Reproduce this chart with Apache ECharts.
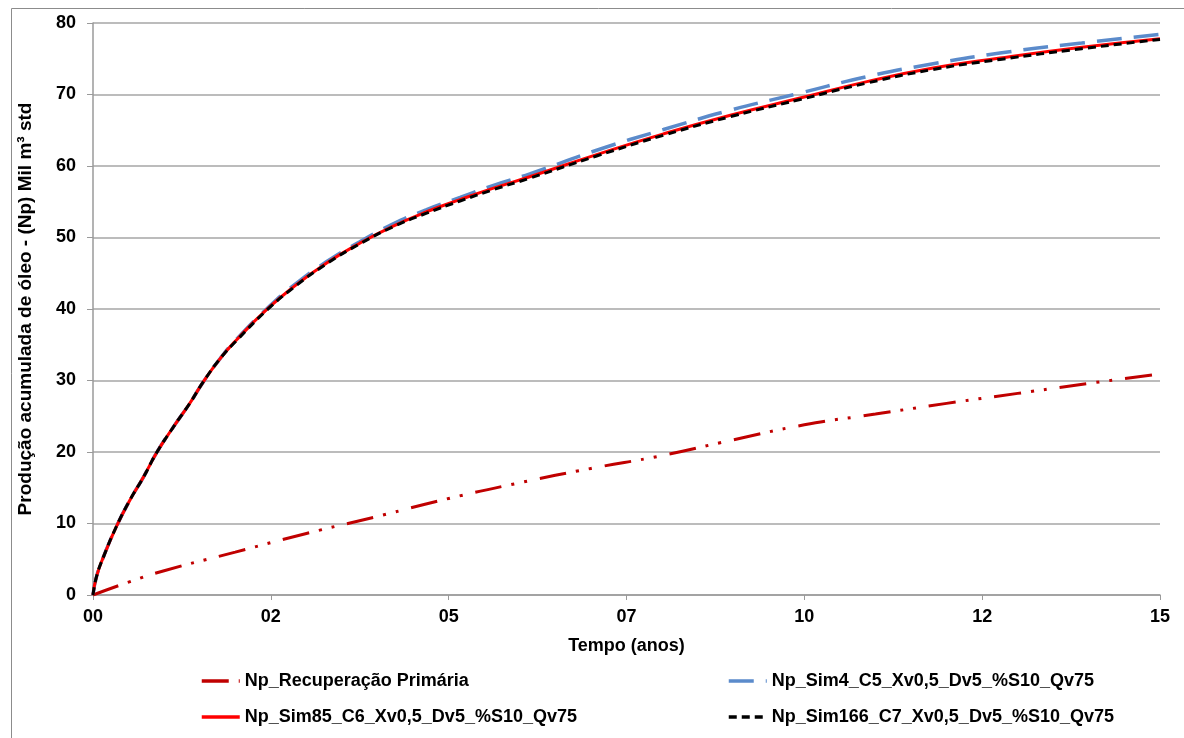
<!DOCTYPE html>
<html>
<head>
<meta charset="utf-8">
<script src="https://cdn.jsdelivr.net/npm/echarts@6/dist/echarts.min.js"></script>
<style>
  html, body { margin: 0; padding: 0; background: #fff; }
  #chart { width: 1184px; height: 738px; }
</style>
</head>
<body>
<div id="chart"></div>
<script>
const xTickLabels = ["00", "02", "05", "07", "10", "12", "15"];

// tempo (anos) for the simulated curves
const simTime = [0, 0.05, 0.15, 0.33, 0.52, 0.71, 0.9, 1.13, 1.36, 1.55, 1.79, 2.02, 2.44, 2.82, 3.28,
  3.75, 4.22, 4.69, 5.16, 5.63, 6.14, 7.08, 8.02, 8.96, 9.94, 10.88, 11.81, 12.75, 13.9, 15];
const sim85 = [0, 2.6, 5.4, 9.6, 13.3, 16.5, 20.0, 23.5, 26.8, 29.8, 33.1, 35.7, 39.9, 43.1, 46.4,
  49.2, 51.6, 53.6, 55.3, 56.9, 58.5, 61.6, 64.5, 67.1, 69.5, 71.8, 73.7, 75.1, 76.6, 77.8];
const sim4 = [0, 2.6, 5.4, 9.6, 13.3, 16.5, 20.0, 23.5, 26.8, 29.8, 33.1, 35.8, 40.0, 43.3, 46.6,
  49.4, 51.9, 53.9, 55.6, 57.3, 58.9, 62.2, 65.1, 67.8, 70.2, 72.5, 74.3, 75.8, 77.2, 78.4];
const sim166 = [0, 2.6, 5.4, 9.6, 13.3, 16.5, 20.0, 23.5, 26.8, 29.8, 33.1, 35.6, 39.8, 43.0, 46.3,
  49.1, 51.5, 53.4, 55.1, 56.7, 58.3, 61.4, 64.3, 66.9, 69.3, 71.6, 73.5, 74.9, 76.4, 77.7];

const primTime = [0, 0.5, 1, 2, 3, 4, 5, 6, 7, 8, 9, 10, 11, 12, 13, 14, 15];
const primaria = [0, 1.8, 3.4, 6.0, 8.6, 11.0, 13.5, 15.7, 17.7, 19.5, 21.7, 23.8, 25.3, 26.8, 28.2, 29.6, 30.9];

const names = [
  "Np_Recuperação Primária",
  "Np_Sim4_C5_Xv0,5_Dv5_%S10_Qv75",
  "Np_Sim85_C6_Xv0,5_Dv5_%S10_Qv75",
  "Np_Sim166_C7_Xv0,5_Dv5_%S10_Qv75",
];

const pairs = (xs, ys) => xs.map((x, i) => [x, ys[i]]);
const font = "Liberation Sans, Arial, sans-serif";
const chart = echarts.init(document.getElementById("chart"));

function legendAt(name, left, top) {
  return {
    data: [name], left, top, padding: 0, itemWidth: 38, itemHeight: 14, itemGap: 0,
    itemStyle: { opacity: 0 },
    lineStyle: { width: 3.5 },
    textStyle: { fontFamily: font, fontWeight: "bold", fontSize: 18, color: "#000" },
  };
}

chart.setOption({
  animation: false,
  graphic: [{
    type: "rect", left: 9, top: 6, shape: { width: 1300, height: 900 },
    style: { fill: "none", stroke: "#8c8c8c", lineWidth: 1 },
  }],
  legend: [
    legendAt(names[0], 200, 672),
    legendAt(names[1], 727, 672),
    legendAt(names[2], 200, 708),
    legendAt(names[3], 727, 708),
  ],
  grid: { left: 93, right: 24, top: 23, bottom: 143 },
  xAxis: {
    type: "value", min: 0, max: 15, interval: 2.5,
    name: "Tempo (anos)", nameLocation: "middle", nameGap: 42,
    nameTextStyle: { fontFamily: font, fontWeight: "bold", fontSize: 18, color: "#000" },
    axisLine: { lineStyle: { color: "#9a9a9a", width: 1.5 } },
    axisTick: { show: true, length: 5, lineStyle: { color: "#9a9a9a" } },
    splitLine: { show: false },
    axisLabel: {
      fontFamily: font, fontWeight: "bold", fontSize: 18, color: "#000", margin: 13,
      formatter: (v) => xTickLabels[Math.round(v / 2.5)],
    },
  },
  yAxis: {
    type: "value", min: 0, max: 80, interval: 10,
    name: "Produção acumulada de óleo - (Np) Mil m³ std", nameLocation: "middle", nameGap: 58,
    nameTextStyle: { fontFamily: font, fontWeight: "bold", fontSize: 19, color: "#000" },
    axisLine: { show: true, lineStyle: { color: "#9a9a9a", width: 1.5 } },
    axisTick: { show: true, length: 6, lineStyle: { color: "#9a9a9a" } },
    splitLine: { lineStyle: { color: "#a6a6a6", width: 1.5 } },
    axisLabel: { fontFamily: font, fontWeight: "bold", fontSize: 18, color: "#000", margin: 17 },
  },
  series: [
    {
      name: names[0], type: "line", symbol: "none", smooth: true, z: 2,
      data: pairs(primTime, primaria),
      lineStyle: { color: "#c00000", width: 3, type: [27, 10, 3, 10, 3, 13] },
      itemStyle: { color: "#c00000" },
    },
    {
      name: names[1], type: "line", symbol: "none", smooth: true, z: 3,
      data: pairs(simTime, sim4),
      lineStyle: { color: "#5b8bcb", width: 3.5, type: [25, 12] },
      itemStyle: { color: "#5b8bcb" },
    },
    {
      name: names[2], type: "line", symbol: "none", smooth: true, z: 4,
      data: pairs(simTime, sim85),
      lineStyle: { color: "#ff0000", width: 3 },
      itemStyle: { color: "#ff0000" },
    },
    {
      name: names[3], type: "line", symbol: "none", smooth: true, z: 5,
      data: pairs(simTime, sim166),
      lineStyle: { color: "#000000", width: 3, type: [8, 5] },
      itemStyle: { color: "#000000" },
    },
  ],
});
</script>
</body>
</html>
